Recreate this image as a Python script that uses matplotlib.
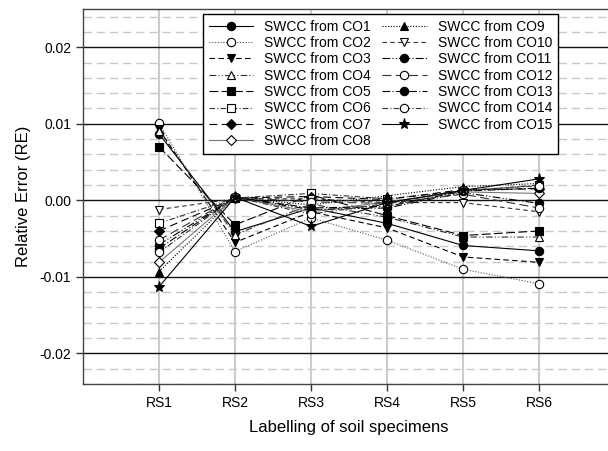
import matplotlib
matplotlib.use("Agg")
import matplotlib.pyplot as plt
from matplotlib.ticker import MultipleLocator, FixedLocator

plt.rcParams['font.family'] = ['Liberation Sans', 'DejaVu Sans']

specimens = ["RS1", "RS2", "RS3", "RS4", "RS5", "RS6"]
series_names = [f"SWCC from CO{i}" for i in range(1, 16)]

co1 = [0.0087, -0.0041, -0.0010, -0.0030, -0.0059, -0.0066]
co2 = [0.0101, -0.0067, -0.0023, -0.0052, -0.0090, -0.0109]
co3 = [0.0093, -0.0055, -0.0015, -0.0036, -0.0074, -0.0081]
co4 = [0.0090, -0.0045, -0.0005, -0.0022, -0.0048, -0.0048]
co5 = [0.0070, -0.0032, 0.0007, -0.0020, -0.0046, -0.0040]
co6 = [-0.0030, 0.0003, 0.0009, 0.0002, 0.0012, 0.0020]
co7 = [-0.0040, 0.0003, 0.0005, 0.0001, 0.0014, 0.0015]
co8 = [-0.0081, 0.0004, -0.0015, -0.0002, 0.0011, 0.0009]
co9 = [-0.0093, 0.0004, -0.0006, 0.0006, 0.0018, 0.0022]
co10 = [-0.0012, 0.0002, 0.0002, -0.0003, -0.0003, -0.0015]
co11 = [-0.0058, 0.0004, -0.0012, -0.0010, 0.0010, -0.0004]
co12 = [-0.0052, 0.0004, -0.0002, -0.0004, 0.0008, -0.0010]
co13 = [-0.0063, 0.0004, -0.0010, -0.0008, 0.0012, 0.0016]
co14 = [-0.0068, 0.0004, -0.0018, -0.0004, 0.0013, 0.0019]
co15 = [-0.0113, 0.0004, -0.0034, -0.0003, 0.0013, 0.0028]
values = [co1, co2, co3, co4, co5, co6, co7, co8, co9, co10, co11, co12, co13, co14, co15]

styles = [
    dict(ls='-', marker='o', mfc='black', color='black'),
    dict(ls=(0, (1, 1.5)), marker='o', mfc='white', color='#555555'),
    dict(ls=(0, (5, 3)), marker='v', mfc='black', color='black'),
    dict(ls=(0, (6, 2, 1, 2, 1, 2)), marker='^', mfc='white', color='#333333'),
    dict(ls=(0, (8, 3)), marker='s', mfc='black', color='black'),
    dict(ls=(0, (5, 2, 1, 2)), marker='s', mfc='white', color='#333333'),
    dict(ls=(0, (7, 4)), marker='D', mfc='black', color='black'),
    dict(ls='-', marker='D', mfc='white', color='#777777'),
    dict(ls=(0, (1, 1.5)), marker='^', mfc='black', color='black'),
    dict(ls=(0, (4, 3)), marker='v', mfc='white', color='#333333'),
    dict(ls=(0, (7, 2, 1, 2, 1, 2)), marker='o', mfc='black', color='black'),
    dict(ls=(0, (8, 4)), marker='o', mfc='white', color='#333333'),
    dict(ls=(0, (7, 2, 1, 2)), marker='o', mfc='black', color='black'),
    dict(ls=(0, (5, 2, 1, 2)), marker='o', mfc='white', color='#333333'),
    dict(ls='-', marker='*', mfc='black', color='black'),
]

fig = plt.figure(figsize=(6.08, 4.51), dpi=100)
ax = fig.add_axes([83/608, 1 - 384/451, 532/608, 375/451])

x = list(range(1, len(specimens) + 1))
handles = []
for name, vals, st in zip(series_names, values, styles):
    ms = 8 if st['marker'] == '*' else (5 if st['marker'] == 'D' else 6)
    h, = ax.plot(x, vals, linestyle=st['ls'], color=st['color'], lw=0.8,
                 marker=st['marker'], markersize=ms, markerfacecolor=st['mfc'],
                 markeredgecolor='black', markeredgewidth=0.8, label=name, zorder=3)
    handles.append(h)

ax.set_xlim(0, 7)
ax.set_ylim(-0.024, 0.025)
ax.set_xticks(x)
ax.set_xticklabels(specimens)
ax.yaxis.set_major_locator(FixedLocator([-0.02, -0.01, 0.0, 0.01, 0.02]))
ax.set_yticklabels(["-0.02", "-0.01", "0.00", "0.01", "0.02"])
ax.yaxis.set_minor_locator(MultipleLocator(0.002))
ax.tick_params(axis='both', which='major', direction='out', length=5, width=1,
               labelsize=10, color='#333333')
ax.tick_params(axis='y', which='minor', length=0)

ax.set_axisbelow(True)
ax.yaxis.grid(True, which='minor', color='#c8c8c8', lw=1.0, ls=(0, (6, 3.5)))
ax.yaxis.grid(True, which='major', color='#111111', lw=1.0, ls='-')
ax.xaxis.grid(True, which='major', color='#cccccc', lw=1.5, ls='-')

for side in ['left', 'bottom', 'top']:
    ax.spines[side].set_color('#444444')
    ax.spines[side].set_linewidth(1.0)
ax.spines['right'].set_visible(False)

ax.set_xlabel("Labelling of soil specimens", fontsize=12, labelpad=7)
ax.set_ylabel("Relative Error (RE)", fontsize=12, labelpad=6)

leg = fig.legend(handles, series_names, loc='upper left',
                 bbox_to_anchor=(203/608, 1 - 14/451), ncol=2, fontsize=10,
                 frameon=True, fancybox=False, framealpha=1, edgecolor='black',
                 handlelength=3.2, handletextpad=0.8, labelspacing=0.17,
                 columnspacing=0.8, borderpad=0.4, numpoints=1, borderaxespad=0)
leg.get_frame().set_linewidth(1.0)

fig.savefig("out.png", dpi=100)
